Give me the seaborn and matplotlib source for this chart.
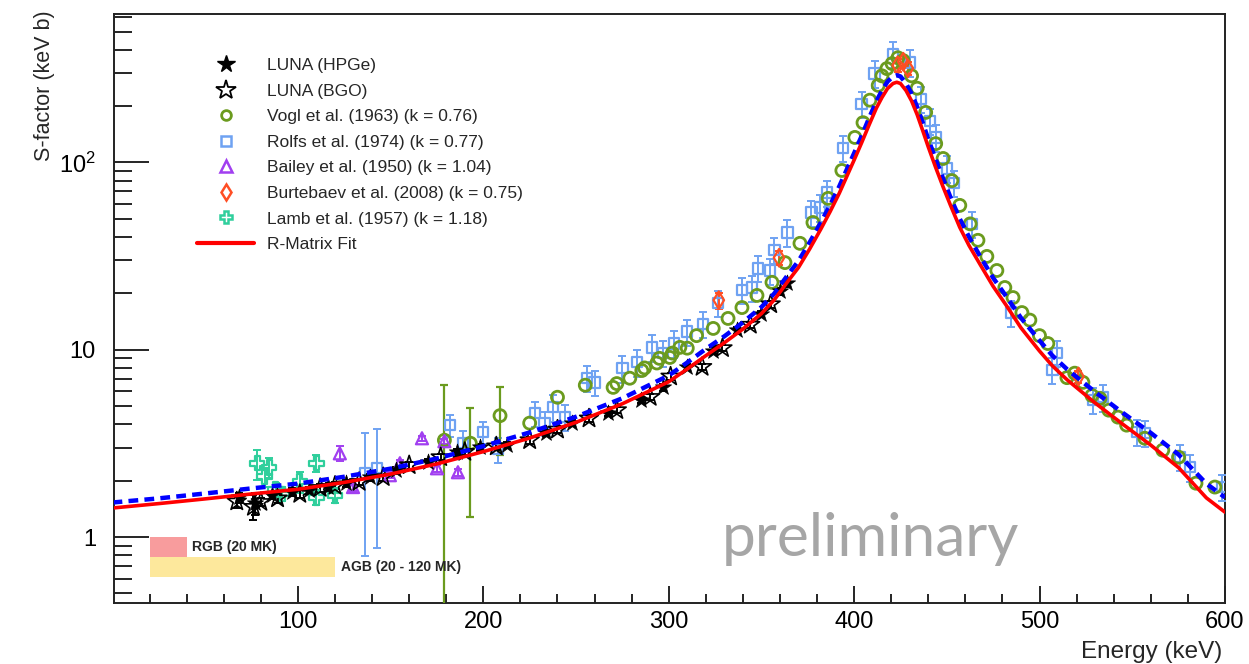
import numpy as np
import pandas as pd
import matplotlib
matplotlib.use("Agg")
import matplotlib.pyplot as plt
import matplotlib.ticker as mticker
from matplotlib.lines import Line2D
import seaborn as sns

sns.set_style("ticks")
plt.rcParams["font.family"] = ["Liberation Sans", "DejaVu Sans"]
plt.rcParams["mathtext.fontset"] = "custom"
plt.rcParams["mathtext.rm"] = "Liberation Sans"

# R-Matrix fit (red) and second fit (blue dashed)
fit_E = [0, 25, 50, 75, 100, 125, 150, 175, 200, 225, 250, 275, 300, 310, 320, 330, 340, 350, 357,
         364, 370, 376, 382, 387, 392, 396, 400, 404, 408, 412, 415, 418, 421, 423, 425, 428, 431,
         434, 437, 440, 444, 448, 452, 457, 462, 468, 475, 482, 490, 500, 507, 515, 530, 545, 560,
         575, 590, 600]
fit_red = [1.43, 1.51, 1.60, 1.70, 1.80, 1.96, 2.17, 2.46, 2.86, 3.38, 4.1, 5.15, 6.75, 7.9, 9.3,
           10.9, 12.9, 15.6, 18.5, 23.0, 27.5, 34.5, 44, 54.5, 68.5, 84, 103, 127, 158, 195, 222,
           248, 264, 268, 264, 242, 213, 180, 148, 121, 94, 74, 59, 45, 36, 28.5, 21.8, 17.3, 13.1,
           9.85, 8.2, 6.9, 5.2, 4.0, 3.1, 2.35, 1.62, 1.36]
fit_blue = [1.53, 1.61, 1.71, 1.82, 1.93, 2.10, 2.32, 2.63, 3.06, 3.62, 4.39, 5.51, 7.29, 8.55,
            10.1, 11.8, 14.0, 16.9, 20.0, 24.9, 29.8, 37.4, 47.7, 59.1, 74.5, 91.5, 112, 138, 172,
            212, 242, 270, 288, 292, 288, 264, 233, 198, 163, 133, 104, 82, 65, 50, 40, 31.5,
            24.2, 19.3, 14.8, 11.2, 9.3, 7.85, 5.95, 4.6, 3.6, 2.76, 1.93, 1.63]

# LUNA (HPGe), filled stars
hpge_E = [68, 77, 86, 97, 106, 116, 126, 139, 153, 170, 186, 198, 213, 234, 248, 267, 285, 297, 310,
          324, 337, 350, 360, 364]
hpge_S = [1.63, 1.52, 1.67, 1.74, 1.78, 1.85, 1.94, 2.09, 2.28, 2.51, 2.84, 3.02, 3.10, 3.59, 4.06,
          4.59, 5.38, 6.3, 8.1, 9.9, 12.7, 15.5, 20.5, 22.6]
hpge_err = [0.10, 0.20, 0.08, 0.08, 0.08, 0.08, 0.08, 0.09, 0.10, 0.10, 0.12, 0.12, 0.12, 0.14, 0.16,
            0.18, 0.2, 0.25, 0.3, 0.4, 0.5, 0.6, 0.8, 0.9]

# LUNA (BGO), open stars
bgo_E = [67, 76, 80, 89, 101, 112, 120, 133, 146, 160, 177, 190, 207, 225, 240, 257, 272, 290, 301,
         318, 329, 344, 355]
bgo_S = [1.55, 1.45, 1.54, 1.61, 1.70, 1.83, 1.88, 1.97, 2.09, 2.42, 2.67, 2.85, 3.05, 3.29, 3.75,
         4.3, 4.76, 5.6, 7.2, 8.1, 10.2, 13.6, 17.5]
bgo_err = [0.12, 0.22, 0.08, 0.08, 0.08, 0.08, 0.08, 0.08, 0.09, 0.1, 0.1, 0.12, 0.12, 0.13, 0.15,
           0.17, 0.19, 0.22, 0.28, 0.3, 0.4, 0.5, 0.7]

# Vogl et al. (1963)
vogl_E = [179, 193, 209, 225, 240, 255, 270, 272, 279, 285.5, 287, 293.6, 295, 300.6, 302, 306, 310,
          315, 324, 332, 339.5, 347.6, 355.7, 362.7, 370.8, 377.8, 386, 393.4, 400.4, 404.8, 408.5,
          413, 415, 417.7, 420.5, 423.6, 426.4, 431, 434, 438.6, 444, 448, 452.7, 457, 462.6, 466.8,
          471.6, 477, 481.3, 485.7, 490.5, 494.8, 500, 504.5, 514.8, 519, 523.4, 528.3, 532.6, 537.4,
          542.3, 547, 556.8, 566.5, 575, 584.4, 594.6]
vogl_S = [3.29, 3.17, 4.45, 4.06, 5.58, 6.47, 6.3, 6.6, 7.05, 7.75, 8.0, 8.5, 9.0, 9.1, 9.6, 10.3,
          10.2, 11.9, 13.0, 14.7, 16.8, 19.5, 22.9, 29.2, 37, 47.8, 64.3, 90.6, 136, 163, 215, 258,
          290, 317, 337, 362, 350, 290, 249, 185, 126, 105, 80, 59, 47, 38.4, 31.5, 26.5, 21.5, 19.0,
          15.8, 14.4, 11.9, 10.8, 7.1, 7.5, 6.7, 5.7, 5.5, 4.76, 4.37, 3.96, 3.37, 2.91, 2.67, 1.94,
          1.85]
vogl_bar_E = [179, 193, 209]
vogl_bar_S = [3.29, 3.17, 4.45]
vogl_bar_lo = [3.0, 1.89, 1.71]
vogl_bar_hi = [3.2, 1.7, 1.85]

# Rolfs et al. (1974)
rolfs_E = [136, 142.5, 182, 189, 200, 208, 228, 233, 237.5, 244, 256, 260, 275, 283, 291, 297, 303,
           310, 318.5, 326.5, 339.5, 345, 348, 354.6, 357, 364, 377, 381.6, 385.3, 394, 404, 411,
           421, 430, 436, 441, 444, 450, 454, 463.5, 484.5, 507, 509.4, 528.8, 534, 552.5, 556.8,
           575.7, 581, 598.4]
rolfs_S = [2.19, 2.33, 3.96, 3.17, 3.63, 2.95, 4.58, 4.06, 4.94, 4.37, 7.05, 6.7, 7.96, 8.59, 10.3,
           9.6, 10.8, 12.5, 13.7, 17.7, 20.8, 21.5, 27.2, 26.5, 34, 42.3, 54, 57.5, 69, 119, 206,
           298, 380, 342, 218, 167, 136, 93, 77.5, 47, 15.8, 7.8, 9.6, 5.38, 5.58, 3.63, 3.59, 2.67,
           2.36, 1.85]
rolfs_err = [1.40, 1.46, 0.55, 0.5, 0.5, 0.45, 0.7, 0.6, 0.8, 0.7, 1.1, 1.0, 1.3, 1.4, 1.7, 1.5, 1.8,
             2.0, 2.2, 2.8, 3.3, 3.4, 4.3, 4.2, 5.4, 6.8, 8.6, 9.2, 11, 19, 33, 48, 60, 55, 35, 27,
             22, 15, 12, 7.5, 2.5, 1.25, 1.5, 0.86, 0.9, 0.58, 0.57, 0.43, 0.38, 0.3]

# Bailey et al. (1950)
bailey_E = [122.6, 129.7, 149.6, 155, 166.9, 175, 179, 186.3]
bailey_S = [2.8, 1.85, 2.14, 2.48, 3.37, 2.33, 3.25, 2.22]
bailey_err = [0.25, 0.08, 0.08, 0.1, 0.1, 0.1, 0.1, 0.1]

# Burtebaev et al. (2008)
burt_E = [327, 359.5, 423.5, 426.5, 429, 521]
burt_S = [18.4, 31, 330, 345, 318, 7.2]
burt_err = [1.8, 2.8, 25, 25, 25, 0.55]

# Lamb et al. (1957)
lamb_E = [78, 82, 84.5, 88, 91.5, 101, 110, 110, 120]
lamb_S = [2.48, 2.10, 2.36, 1.80, 1.70, 1.98, 2.48, 1.63, 1.67]
lamb_err = [0.45, 0.25, 0.3, 0.15, 0.15, 0.25, 0.25, 0.15, 0.15]

# Gamow windows
win_labels = ["RGB (20 MK)", "AGB (20 - 120 MK)"]
win_E = [(20, 40), (20, 120)]
win_S = [(0.782, 1.0), (0.612, 0.782)]
win_colors = ["#f89c9d", "#fde89c"]

c_vogl = "#6b9b1e"
c_rolfs = "#6fa2f2"
c_bailey = "#a13ff0"
c_burt = "#ff4e24"
c_lamb = "#2fcf9c"

fig = plt.figure(figsize=(12.49, 6.64), dpi=100, facecolor="white")
ax = fig.add_axes([0.0913, 0.0919, 0.8894, 0.8870])


def points(E, S, err, color, marker, size, filled=False, lw=1.6, z=3):
    if err is not None:
        ax.errorbar(E, S, yerr=err, fmt="none", ecolor=color, elinewidth=1.4, capsize=3,
                    capthick=1.4, zorder=z)
    sns.scatterplot(x=E, y=S, marker=marker, s=size, color=color,
                    facecolor=color if filled else "none", edgecolor=color,
                    linewidth=lw, ax=ax, zorder=z + 0.5, legend=False)


points(rolfs_E, rolfs_S, rolfs_err, c_rolfs, "s", 55)
ax.errorbar(vogl_bar_E, vogl_bar_S, yerr=[vogl_bar_lo, vogl_bar_hi], fmt="none", ecolor=c_vogl,
            elinewidth=1.6, capsize=3, capthick=1.6, zorder=3)
points(vogl_E, vogl_S, None, c_vogl, "o", 75, lw=2)
points(bailey_E, bailey_S, bailey_err, c_bailey, "^", 75)
points(lamb_E, lamb_S, lamb_err, c_lamb, "P", 110)
points(burt_E, burt_S, burt_err, c_burt, "d", 80)
points(bgo_E, bgo_S, bgo_err, "black", "*", 200, lw=1.2)
points(hpge_E, hpge_S, hpge_err, "black", "*", 150, filled=True, lw=0.5)

fit = pd.DataFrame({"E": fit_E, "red": fit_red, "blue": fit_blue})
sns.lineplot(data=fit, x="E", y="blue", color="#0000ff", linewidth=3.2, linestyle=(0, (2.2, 1.4)),
             ax=ax, zorder=6)
sns.lineplot(data=fit, x="E", y="red", color="#ff0000", linewidth=2.6, ax=ax, zorder=7)

for lab, (e0, e1), (s0, s1), col in zip(win_labels, win_E, win_S, win_colors):
    ax.fill_between([e0, e1], s0, s1, color=col, linewidth=0, zorder=1)
    ax.text(e1 + 3, (s0 * s1) ** 0.5, lab, fontsize=10, fontweight="bold", va="center", ha="left")

ax.set_yscale("log")
ax.set_xlim(0.8, 600)
ax.set_ylim(0.445, 620)
ax.set_xlabel("")
ax.set_ylabel("")

ax.xaxis.set_major_locator(mticker.MultipleLocator(100))
ax.xaxis.set_minor_locator(mticker.MultipleLocator(20))
ax.yaxis.set_major_locator(mticker.FixedLocator([1, 10, 100]))
ax.yaxis.set_major_formatter(mticker.FixedFormatter(["1", "10", r"$\mathregular{10^{2}}$"]))
ax.yaxis.set_minor_locator(mticker.LogLocator(base=10, subs=np.arange(2, 10)))
ax.yaxis.set_minor_formatter(mticker.NullFormatter())

ax.tick_params(axis="both", which="both", direction="in", top=False, right=False, width=1.2,
               labelsize=17, colors="black")
ax.tick_params(axis="y", which="major", length=25, pad=13)
ax.tick_params(axis="y", which="minor", length=13)
ax.tick_params(axis="x", which="major", length=12, pad=6)
ax.tick_params(axis="x", which="minor", length=6.5)
for sp in ax.spines.values():
    sp.set_linewidth(1.4)
    sp.set_color("#222222")

fig.text(0.036, 0.985, "S-factor (keV b)", rotation=90, ha="center", va="top", fontsize=15.5)
fig.text(1222 / 1249, 1 - 652 / 664, "Energy (keV)", ha="right", va="center", fontsize=17.5)
fig.text(870 / 1249, 1 - 539 / 664, "preliminary", ha="center", va="center", fontsize=43.5,
         color="#a6a6a6", family=["Lato", "DejaVu Sans"])

handles = [
    Line2D([], [], ls="none", marker="*", color="black", ms=13),
    Line2D([], [], ls="none", marker="*", mfc="none", mec="black", mew=1.3, ms=15),
    Line2D([], [], ls="none", marker="o", mfc="none", mec=c_vogl, mew=2, ms=7),
    Line2D([], [], ls="none", marker="s", mfc="none", mec=c_rolfs, mew=1.8, ms=6.5),
    Line2D([], [], ls="none", marker="^", mfc="none", mec=c_bailey, mew=1.8, ms=8),
    Line2D([], [], ls="none", marker="d", mfc="none", mec=c_burt, mew=1.8, ms=8),
    Line2D([], [], ls="none", marker="P", mfc="none", mec=c_lamb, mew=1.8, ms=9),
    Line2D([], [], color="#ff0000", lw=3),
]
labels = ["LUNA (HPGe)", "LUNA (BGO)", "Vogl et al. (1963) (k = 0.76)",
          "Rolfs et al. (1974) (k = 0.77)", "Bailey et al. (1950) (k = 1.04)",
          "Burtebaev et al. (2008) (k = 0.75)", "Lamb et al. (1957) (k = 1.18)", "R-Matrix Fit"]
fig.legend(handles, labels, loc="upper left", bbox_to_anchor=(197 / 1249, 1 - 58 / 664),
           frameon=False, fontsize=12.5, handlelength=3.3, handletextpad=0.75, labelspacing=0.6,
           borderpad=0, borderaxespad=0)

fig.savefig("out.png", dpi=100, facecolor="white")
